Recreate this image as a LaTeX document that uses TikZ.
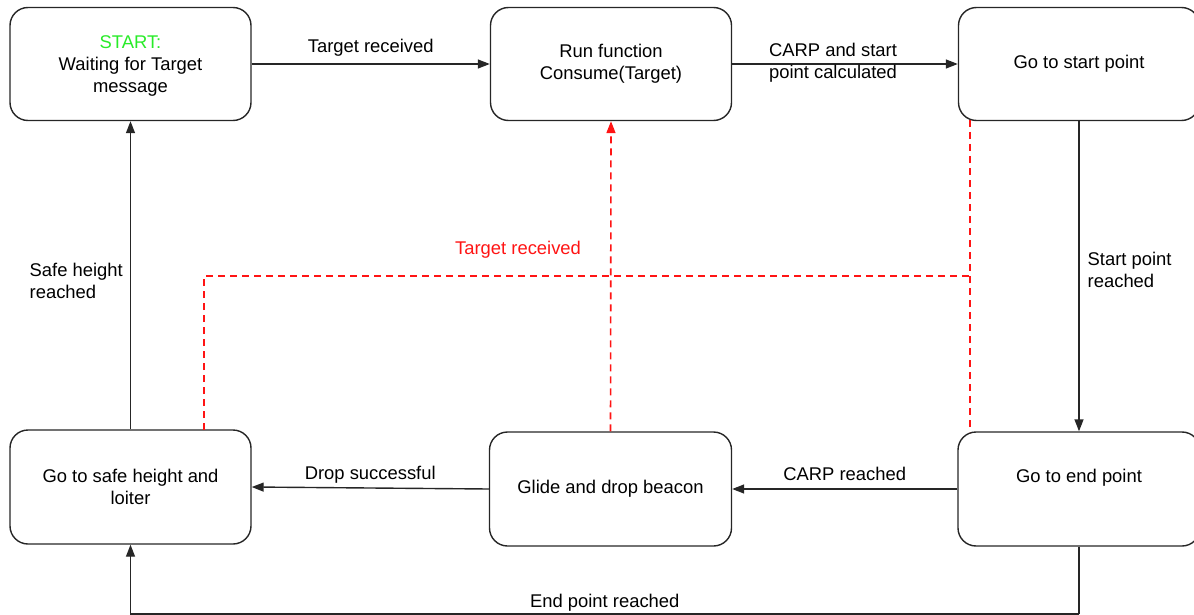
\documentclass[tikz,border=0pt]{standalone}
\usepackage{fontspec}
\setmainfont{Liberation Sans}
\usetikzlibrary{arrows.meta,calc}
\definecolor{startgreen}{RGB}{40,235,40}
\definecolor{redline}{RGB}{255,20,20}
\begin{document}
\begin{tikzpicture}[x=1pt,y=-1pt,
  box/.style={draw=black!85, line width=1.4pt, rounded corners=18pt, minimum width=241pt, minimum height=113pt, align=center, inner sep=0pt},
  conn/.style={draw=black!85, line width=1.4pt, -{Triangle[length=12pt,width=9pt]}},
  plain/.style={draw=black!85, line width=1.4pt},
  reddash/.style={draw=redline, line width=1.6pt, dash pattern=on 7pt off 5pt},
  lbl/.style={font=\fontsize{18.4}{22}\selectfont, align=left, inner sep=0pt},
  every node/.append style={font=\fontsize{18.4}{22}\selectfont}]
\useasboundingbox (0,0) rectangle (1194,615);
% boxes
\node[box] (A) at (130.5,64) {};
\node[align=center] (At) at ($(A.center)+(0,1.5)$) {\textcolor{startgreen}{START:}\\Waiting for Target\\message};
\node[box] (B) at (611,64) {Run function\\Consume(Target)};
\node[box] (C) at (1079,64) {Go to start point};
\node[box, minimum height=114pt] (D) at (130.5,487) {Go to safe height and\\loiter};
\node[box, minimum height=114pt, minimum width=242pt] (E) at (610.5,489) {Glide and drop beacon};
\node[box, minimum height=114pt, minimum width=242pt] (F) at (1079,489) {};
\node (Ft) at ($(F.center)+(0,-11)$) {Go to end point};
% corner coordinates
\coordinate (bR) at (1079,614);
\coordinate (rL) at (204,276);
\coordinate (rR) at (970,276);
\coordinate (rD) at (204,430);
\coordinate (rCt) at (970,120);
\coordinate (rFt) at (970,432);
% connectors
\draw[conn] (A.east) -- node[lbl, midway, yshift=16pt] {Target received} (B.west);
\draw[conn] (B.east) -- node[lbl, midway, xshift=-12pt, yshift=1pt] {CARP and start\\point calculated} (C.west);
\draw[conn] (C.south) -- node[lbl, midway, anchor=west, xshift=8pt, yshift=6pt] {Start point\\reached} (F.north);
\draw[conn] (F.west) -- node[lbl, midway, yshift=15pt] {CARP reached} (E.west -| E.east);
\draw[conn] (E.west) -- node[lbl, midway, yshift=13pt] {Drop successful} (D.east);
\draw[conn] (D.north) -- node[lbl, midway, anchor=east, xshift=-7pt, yshift=-6pt] {Safe height\\reached} (A.south);
\draw[plain] (F.south) -- (bR);
\draw[conn] (bR) -- node[lbl, pos=0.5, yshift=11pt] {End point reached} (bR -| D.south) -- (D.south);
% red dashed
\draw[reddash, -{Triangle[length=12pt,width=9pt]}] (E.north) -- (B.south);
\draw[reddash] (rD) -- (rL) -- node[lbl, text=redline, pos=0.41, yshift=26pt] {Target received} (rR);
\draw[reddash] (rCt) -- (rFt);
\end{tikzpicture}
\end{document}
